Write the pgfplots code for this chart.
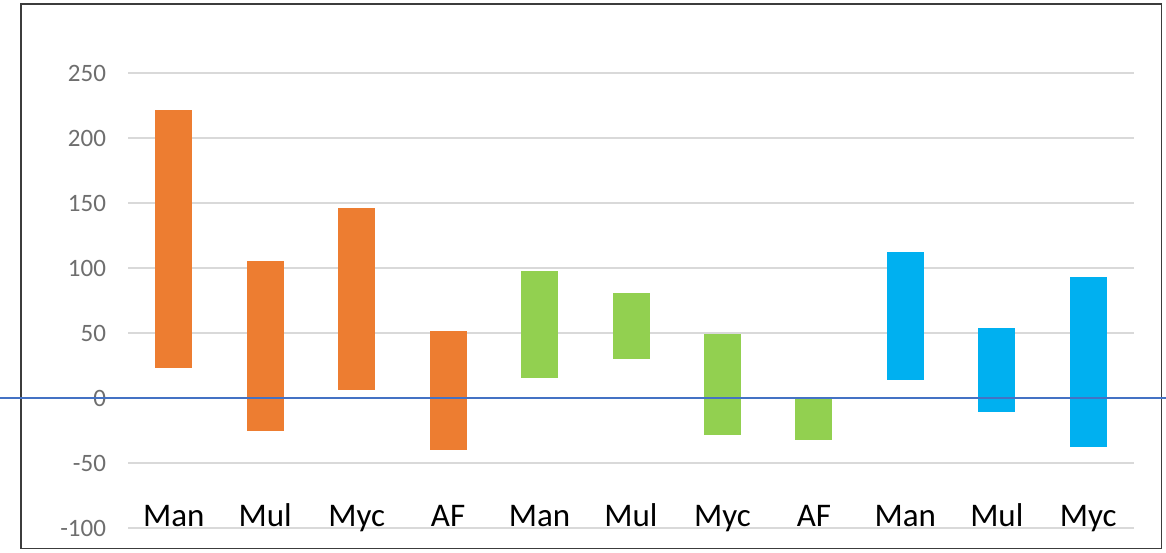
\documentclass[border=0pt]{standalone}
\usepackage{pgfplots}
\usepackage{pgfplotstable}
\usepackage{fontspec}
\setmainfont{Carlito}
\pgfplotsset{compat=1.18}
\definecolor{cOr}{RGB}{237,125,49}
\definecolor{cGr}{RGB}{146,208,80}
\definecolor{cBl}{RGB}{0,176,240}
\definecolor{cLine}{RGB}{68,114,196}
\definecolor{cGrid}{RGB}{217,217,217}
\definecolor{cTick}{RGB}{110,110,110}
\pgfplotstableread{
x low high
0 23.2 221.6
1 -25.4 105.1
2 6.5 146.5
3 -39.7 51.9
}\orange
\pgfplotstableread{
x low high
4 15.7 97.8
5 30.3 81.1
6 -28.1 49.5
7 -32.4 0
}\green
\pgfplotstableread{
x low high
8 13.8 112.4
9 -10.8 53.8
10 -37.6 93.2
}\blue
\pgfplotsset{floatbar/.style={no markers, draw=none,
  error bars/.cd, y dir=both, y explicit, error mark=none,
  error bar style={draw=#1, line width=18.5pt, line cap=butt, solid}}}
\begin{document}
\begin{tikzpicture}
\useasboundingbox (0,0) rectangle (583pt,276pt);
\draw[draw={rgb,255:red,60;green,60;blue,60}, line width=0.8pt] (10.5pt,1.8pt) rectangle (580.8pt,274pt);
\begin{axis}[
  at={(64pt,12pt)}, anchor=south west,
  scale only axis, width=503pt, height=227.5pt,
  xmin=-0.5, xmax=10.5, ymin=-100, ymax=250,
  axis line style={draw=none},
  tick style={draw=none},
  ytick={-100,-50,0,50,100,150,200,250},
  ymajorgrids, grid style={cGrid, line width=0.8pt},
  yticklabel style={font=\fontsize{12.5}{14}\selectfont, text=cTick, anchor=east, xshift=-7.5pt},
  /pgf/number format/assume math mode=true,
  xtick={0,1,2,3,4,5,6,7,8,9,10},
  xticklabels={Man,Mul,Myc,AF,Man,Mul,Myc,AF,Man,Mul,Myc},
  xticklabel style={font=\fontsize{16.5}{18}\selectfont, text=black, anchor=base, yshift=1pt},
  clip=false,
]
\addplot[floatbar=cOr] table[x=x, y expr={(\thisrow{low}+\thisrow{high})/2}, y error expr={(\thisrow{high}-\thisrow{low})/2}] {\orange};
\addplot[floatbar=cGr] table[x=x, y expr={(\thisrow{low}+\thisrow{high})/2}, y error expr={(\thisrow{high}-\thisrow{low})/2}] {\green};
\addplot[floatbar=cBl] table[x=x, y expr={(\thisrow{low}+\thisrow{high})/2}, y error expr={(\thisrow{high}-\thisrow{low})/2}] {\blue};
\coordinate (zl) at (axis cs:-0.5,0);
\end{axis}
\draw[cLine, line width=0.8pt] (0pt,0 |- zl) -- (583pt,0 |- zl);
\end{tikzpicture}
\end{document}
